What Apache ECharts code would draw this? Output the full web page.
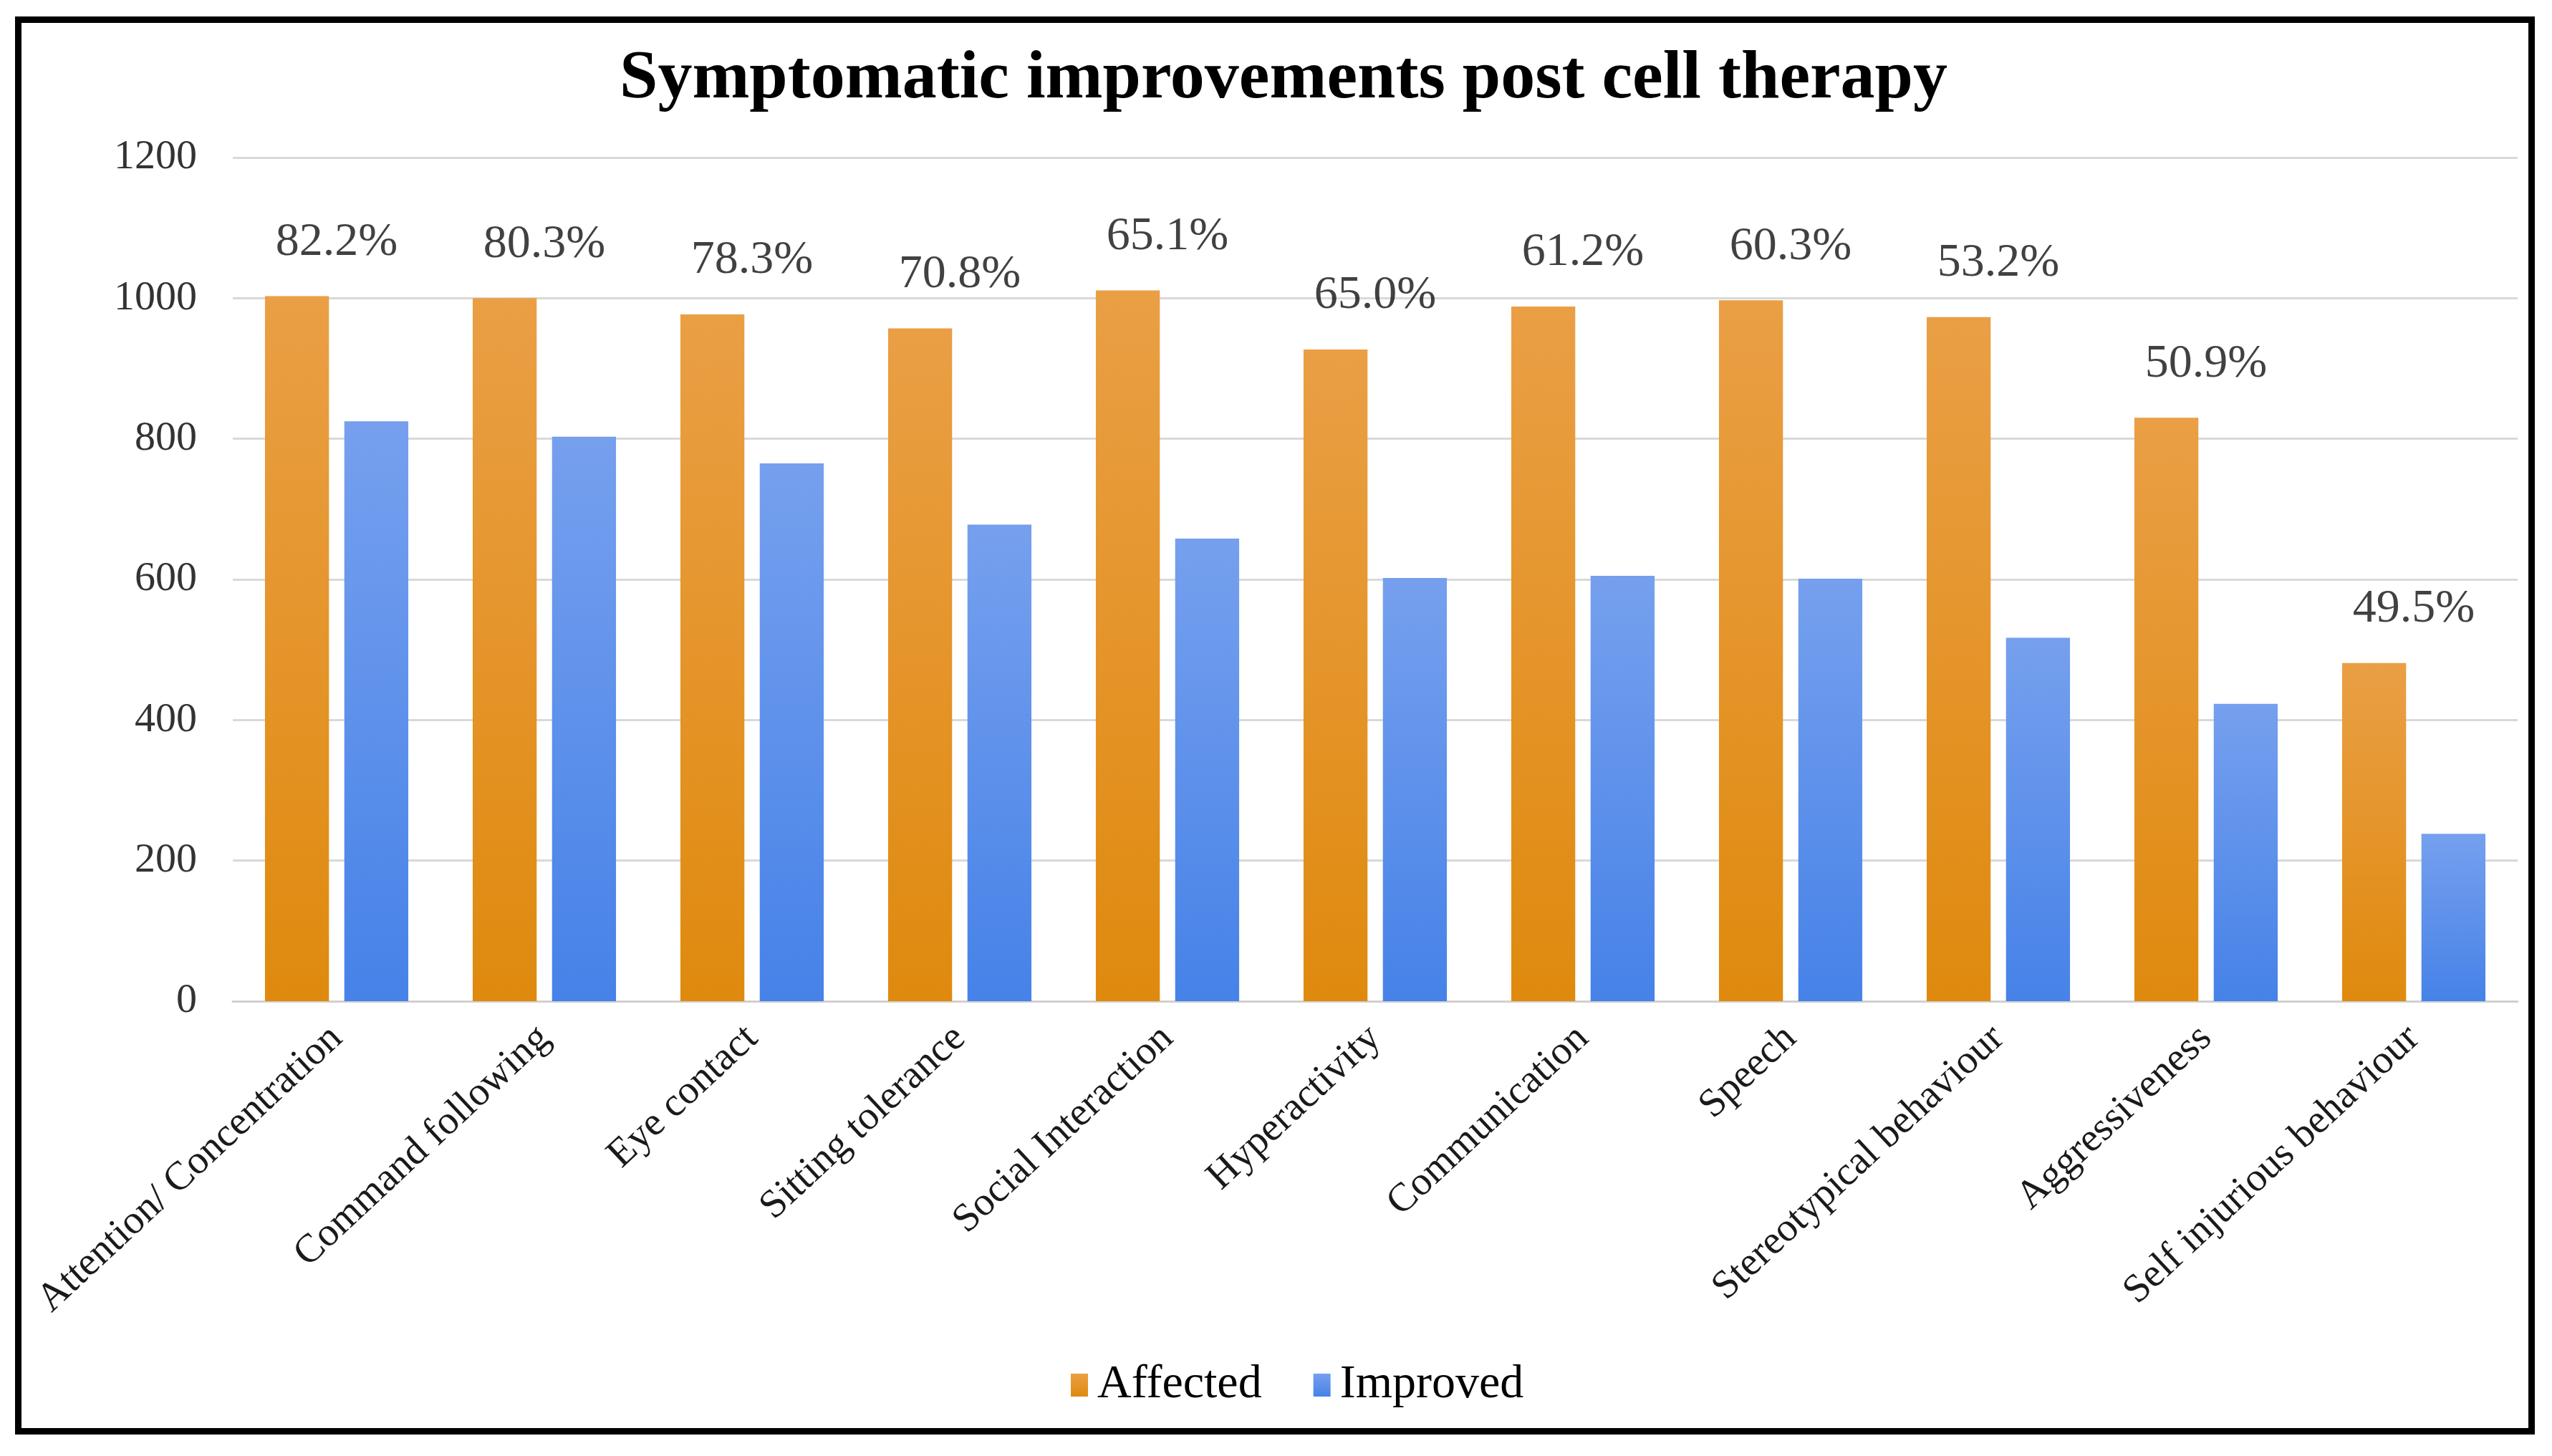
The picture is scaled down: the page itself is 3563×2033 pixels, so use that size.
<!DOCTYPE html>
<html>
<head>
<meta charset="utf-8">
<script src="https://cdn.jsdelivr.net/npm/echarts@6/dist/echarts.min.js"></script>
<style>
html,body{margin:0;padding:0;background:#fff;}
#chart{width:3563px;height:2033px;}
</style>
</head>
<body>
<div id="chart"></div>
<script>
var categories = ["Attention/ Concentration","Command following","Eye contact","Sitting tolerance","Social Interaction","Hyperactivity","Communication","Speech","Stereotypical behaviour","Aggressiveness","Self injurious behaviour"];
var affected = [1003, 1000, 977, 957, 1011, 927, 988, 997, 973, 830, 481];
var improved = [825, 803, 765, 678, 658, 602, 605, 601, 517, 423, 238];
var percents = ["82.2%","80.3%","78.3%","70.8%","65.1%","65.0%","61.2%","60.3%","53.2%","50.9%","49.5%"];
var yTicks = {min: 0, max: 1200, interval: 200};

var serif = '"Liberation Serif", "Times New Roman", serif';
var chart = echarts.init(document.getElementById('chart'));
chart.setOption({
  backgroundColor: '#ffffff',
  animation: false,
  title: {
    text: 'Symptomatic improvements post cell therapy',
    left: 860,
    top: 58,
    textStyle: {fontFamily: serif, fontWeight: 'bold', fontSize: 96, color: '#000'}
  },
  graphic: [{
    type: 'rect',
    shape: {x: 25.5, y: 27.5, width: 3509, height: 1971},
    style: {fill: null, stroke: '#000', lineWidth: 9},
    silent: true
  }],
  legend: {
    data: ['Affected', 'Improved'],
    left: 1490,
    top: 1896,
    itemWidth: 24,
    itemHeight: 32,
    itemGap: 72,
    icon: 'rect',
    textStyle: {fontFamily: serif, fontSize: 66, color: '#000', padding: [0, 0, 0, 8]}
  },
  grid: {left: 325, right: 48, top: 220, bottom: 635, containLabel: false},
  xAxis: {
    type: 'category',
    data: categories,
    axisTick: {show: false},
    axisLine: {lineStyle: {color: '#d0d0d0', width: 3}},
    axisLabel: {rotate: 43, interval: 0, margin: 44, fontFamily: serif, fontSize: 56, color: '#1a1a1a'}
  },
  yAxis: {
    type: 'value',
    min: yTicks.min, max: yTicks.max, interval: yTicks.interval,
    axisLine: {show: false},
    axisTick: {show: false},
    splitLine: {lineStyle: {color: '#d9d9d9', width: 3}},
    axisLabel: {margin: 50, fontFamily: serif, fontSize: 58, color: '#333',
      formatter: function (v) { return String(v); }}
  },
  series: [
    {
      name: 'Affected', type: 'bar', data: affected,
      barCategoryGap: '31%', barGap: '24%',
      itemStyle: {color: new echarts.graphic.LinearGradient(0, 0, 0, 1, [
        {offset: 0, color: '#EA9F45'}, {offset: 1, color: '#DF8A0E'}])}
    },
    {
      name: 'Improved', type: 'bar', data: improved,
      itemStyle: {color: new echarts.graphic.LinearGradient(0, 0, 0, 1, [
        {offset: 0, color: '#76A0EE'}, {offset: 1, color: '#4682E8'}])}
    },
    {
      name: 'pct', type: 'scatter', data: affected, symbolSize: 0, silent: true,
      label: {
        show: true, position: 'top', distance: 42,
        formatter: function (p) { return percents[p.dataIndex]; },
        fontFamily: serif, fontSize: 66, color: '#111'
      }
    }
  ]
});
</script>
</body>
</html>
